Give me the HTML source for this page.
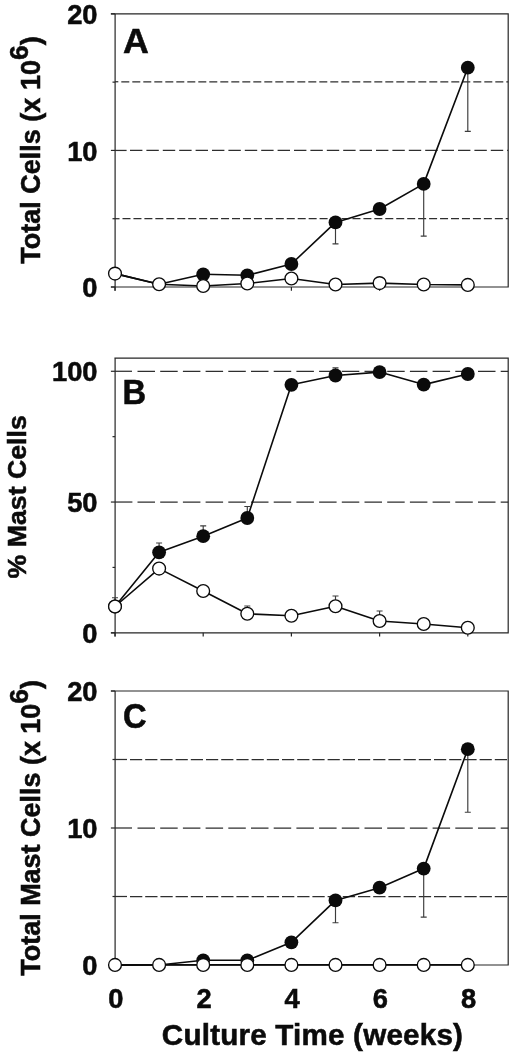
<!DOCTYPE html>
<html lang="en">
<head>
<meta charset="utf-8">
<title>Figure</title>
<style>
html,body{margin:0;padding:0;background:#fff;}
body{width:520px;height:1058px;overflow:hidden;}
svg{display:block;}
text{font-family:"Liberation Sans", Arial, Helvetica, sans-serif;font-weight:bold;fill:#0b0b0b;stroke:#0b0b0b;stroke-width:0.55px;}
.tk{font-size:27.3px;}
.tt{font-size:27px;}
.xt{font-size:29.6px;letter-spacing:0.21px;}
.sp{font-size:26.5px;}
.lt{font-size:34.4px;}
</style>
</head>
<body>
<svg width="520" height="1058" viewBox="0 0 520 1058">
<rect width="520" height="1058" fill="#fff"/>
<path d="M115.1 81.75H118.3" fill="none" stroke="#2e2e2e" stroke-width="1.25"/>
<line x1="121.3" y1="81.75" x2="508.2" y2="81.75" stroke="#2e2e2e" stroke-width="1.25" stroke-dasharray="8 3"/>
<path d="M115.1 150.43H126.6" fill="none" stroke="#2e2e2e" stroke-width="1.25"/>
<line x1="130.0" y1="150.43" x2="508.2" y2="150.43" stroke="#2e2e2e" stroke-width="1.25" stroke-dasharray="12.4 4"/>
<path d="M115.1 218.71H119.5" fill="none" stroke="#2e2e2e" stroke-width="1.25"/>
<line x1="122.5" y1="218.71" x2="508.2" y2="218.71" stroke="#2e2e2e" stroke-width="1.25" stroke-dasharray="8 2.95"/>
<path d="M115.1 290.8V13.85M110.90 13.85H508.2V287.0H110.90" fill="none" stroke="#262626" stroke-width="1.2"/>
<line x1="110.90" y1="13.85" x2="115.1" y2="13.85" stroke="#262626" stroke-width="1.2"/>
<line x1="110.90" y1="150.43" x2="115.1" y2="150.43" stroke="#262626" stroke-width="1.2"/>
<line x1="110.90" y1="287.00" x2="115.1" y2="287.00" stroke="#262626" stroke-width="1.2"/>
<line x1="112.5" y1="82.14" x2="115.1" y2="82.14" stroke="#262626" stroke-width="1.2"/>
<line x1="112.5" y1="218.71" x2="115.1" y2="218.71" stroke="#262626" stroke-width="1.2"/>
<line x1="115.00" y1="287.0" x2="115.00" y2="290.8" stroke="#262626" stroke-width="1.2"/>
<line x1="203.20" y1="287.0" x2="203.20" y2="290.8" stroke="#262626" stroke-width="1.2"/>
<line x1="291.40" y1="287.0" x2="291.40" y2="290.8" stroke="#262626" stroke-width="1.2"/>
<line x1="379.60" y1="287.0" x2="379.60" y2="290.8" stroke="#262626" stroke-width="1.2"/>
<line x1="467.80" y1="287.0" x2="467.80" y2="290.8" stroke="#262626" stroke-width="1.2"/>
<text x="97.5" y="23.95" text-anchor="end" class="tk">20</text>
<text x="97.5" y="160.53" text-anchor="end" class="tk">10</text>
<text x="97.5" y="297.10" text-anchor="end" class="tk">0</text>
<text transform="translate(122.9 53) scale(1.04 1)" class="lt">A</text>
<text transform="translate(40.4 150) rotate(-90)" text-anchor="middle" class="tt" style="font-size:27px">Total Cells (x 10<tspan dy="-12.3" class="sp">6</tspan><tspan dy="12.3">)</tspan></text>
<path d="M335.50 222.40V243.90M332.50 243.90H338.50" fill="none" stroke="#3c3c3c" stroke-width="1.15"/>
<path d="M423.70 183.90V236.10M420.70 236.10H426.70" fill="none" stroke="#3c3c3c" stroke-width="1.15"/>
<path d="M467.80 67.70V131.40M464.80 131.40H470.80" fill="none" stroke="#3c3c3c" stroke-width="1.15"/>
<path d="M115.00 273.60L159.10 284.20L203.20 274.30" fill="none" stroke="#0b0b0b" stroke-width="1.6" stroke-linejoin="round"/>
<path d="M203.20 274.30L247.30 275.30L291.40 264.00L335.50 222.40L379.60 209.00L423.70 183.90L467.80 67.70" fill="none" stroke="#0b0b0b" stroke-width="1.6" stroke-linejoin="round"/>
<circle cx="203.20" cy="274.30" r="6.9" fill="#0b0b0b"/>
<circle cx="247.30" cy="275.30" r="6.9" fill="#0b0b0b"/>
<circle cx="291.40" cy="264.00" r="6.9" fill="#0b0b0b"/>
<circle cx="335.50" cy="222.40" r="6.9" fill="#0b0b0b"/>
<circle cx="379.60" cy="209.00" r="6.9" fill="#0b0b0b"/>
<circle cx="423.70" cy="183.90" r="6.9" fill="#0b0b0b"/>
<circle cx="467.80" cy="67.70" r="6.9" fill="#0b0b0b"/>
<path d="M115.00 273.60L159.10 284.20L203.20 286.00L247.30 283.50L291.40 278.50L335.50 284.50L379.60 283.10L423.70 284.50L467.80 284.90" fill="none" stroke="#0b0b0b" stroke-width="1.6" stroke-linejoin="round"/>
<circle cx="115.00" cy="273.60" r="6.4" fill="#fff" stroke="#0b0b0b" stroke-width="1.35"/>
<circle cx="159.10" cy="284.20" r="6.4" fill="#fff" stroke="#0b0b0b" stroke-width="1.35"/>
<circle cx="203.20" cy="286.00" r="6.4" fill="#fff" stroke="#0b0b0b" stroke-width="1.35"/>
<circle cx="247.30" cy="283.50" r="6.4" fill="#fff" stroke="#0b0b0b" stroke-width="1.35"/>
<circle cx="291.40" cy="278.50" r="6.4" fill="#fff" stroke="#0b0b0b" stroke-width="1.35"/>
<circle cx="335.50" cy="284.50" r="6.4" fill="#fff" stroke="#0b0b0b" stroke-width="1.35"/>
<circle cx="379.60" cy="283.10" r="6.4" fill="#fff" stroke="#0b0b0b" stroke-width="1.35"/>
<circle cx="423.70" cy="284.50" r="6.4" fill="#fff" stroke="#0b0b0b" stroke-width="1.35"/>
<circle cx="467.80" cy="284.90" r="6.4" fill="#fff" stroke="#0b0b0b" stroke-width="1.35"/>
<path d="M115.1 371.28H132.0" fill="none" stroke="#2e2e2e" stroke-width="1.25"/>
<line x1="137.5" y1="371.28" x2="508.2" y2="371.28" stroke="#2e2e2e" stroke-width="1.25" stroke-dasharray="17.5 5.2"/>
<path d="M115.1 502.04H132.4" fill="none" stroke="#2e2e2e" stroke-width="1.25"/>
<line x1="137.5" y1="502.04" x2="508.2" y2="502.04" stroke="#2e2e2e" stroke-width="1.25" stroke-dasharray="17.5 5.2"/>
<path d="M115.1 636.60V358.2M114.40 358.2H508.2V632.8H110.90" fill="none" stroke="#262626" stroke-width="1.2"/>
<line x1="110.90" y1="371.28" x2="115.1" y2="371.28" stroke="#262626" stroke-width="1.2"/>
<line x1="110.90" y1="502.04" x2="115.1" y2="502.04" stroke="#262626" stroke-width="1.2"/>
<line x1="110.90" y1="632.80" x2="115.1" y2="632.80" stroke="#262626" stroke-width="1.2"/>
<line x1="112.5" y1="436.66" x2="115.1" y2="436.66" stroke="#262626" stroke-width="1.2"/>
<line x1="112.5" y1="567.42" x2="115.1" y2="567.42" stroke="#262626" stroke-width="1.2"/>
<line x1="115.00" y1="632.8" x2="115.00" y2="636.60" stroke="#262626" stroke-width="1.2"/>
<line x1="203.20" y1="632.8" x2="203.20" y2="636.60" stroke="#262626" stroke-width="1.2"/>
<line x1="291.40" y1="632.8" x2="291.40" y2="636.60" stroke="#262626" stroke-width="1.2"/>
<line x1="379.60" y1="632.8" x2="379.60" y2="636.60" stroke="#262626" stroke-width="1.2"/>
<line x1="467.80" y1="632.8" x2="467.80" y2="636.60" stroke="#262626" stroke-width="1.2"/>
<text x="97.5" y="381.38" text-anchor="end" class="tk">100</text>
<text x="97.5" y="512.14" text-anchor="end" class="tk">50</text>
<text x="97.5" y="642.90" text-anchor="end" class="tk">0</text>
<text transform="translate(122.5 404.4) scale(0.95 1)" class="lt">B</text>
<text transform="translate(26.4 496.8) rotate(-90)" text-anchor="middle" class="tt" style="font-size:26.7px">% Mast Cells</text>
<path d="M115.00 606.50V597.70M112.00 597.70H118.00" fill="none" stroke="#3c3c3c" stroke-width="1.15"/>
<path d="M159.10 552.30V543.00M156.10 543.00H162.10" fill="none" stroke="#3c3c3c" stroke-width="1.15"/>
<path d="M203.20 536.20V525.80M200.20 525.80H206.20" fill="none" stroke="#3c3c3c" stroke-width="1.15"/>
<path d="M247.30 518.00V506.50M244.30 506.50H250.30" fill="none" stroke="#3c3c3c" stroke-width="1.15"/>
<path d="M247.30 613.80V606.00M244.30 606.00H250.30" fill="none" stroke="#3c3c3c" stroke-width="1.15"/>
<path d="M335.50 606.20V596.00M332.50 596.00H338.50" fill="none" stroke="#3c3c3c" stroke-width="1.15"/>
<path d="M379.60 621.00V611.00M376.60 611.00H382.60" fill="none" stroke="#3c3c3c" stroke-width="1.15"/>
<path d="M335.50 375.50V367.90M332.50 367.90H338.50" fill="none" stroke="#3c3c3c" stroke-width="1.15"/>
<path d="M115.00 606.50L159.10 552.30L203.20 536.20L247.30 518.00L291.40 384.80L335.50 375.50L379.60 372.10L423.70 384.60L467.80 374.00" fill="none" stroke="#0b0b0b" stroke-width="1.6" stroke-linejoin="round"/>
<circle cx="115.00" cy="606.50" r="6.9" fill="#0b0b0b"/>
<circle cx="159.10" cy="552.30" r="6.9" fill="#0b0b0b"/>
<circle cx="203.20" cy="536.20" r="6.9" fill="#0b0b0b"/>
<circle cx="247.30" cy="518.00" r="6.9" fill="#0b0b0b"/>
<circle cx="291.40" cy="384.80" r="6.9" fill="#0b0b0b"/>
<circle cx="335.50" cy="375.50" r="6.9" fill="#0b0b0b"/>
<circle cx="379.60" cy="372.10" r="6.9" fill="#0b0b0b"/>
<circle cx="423.70" cy="384.60" r="6.9" fill="#0b0b0b"/>
<circle cx="467.80" cy="374.00" r="6.9" fill="#0b0b0b"/>
<path d="M115.00 606.50L159.10 568.60L203.20 591.00L247.30 613.80L291.40 615.80L335.50 606.20L379.60 621.00L423.70 624.00L467.80 627.80" fill="none" stroke="#0b0b0b" stroke-width="1.6" stroke-linejoin="round"/>
<circle cx="115.00" cy="606.50" r="6.4" fill="#fff" stroke="#0b0b0b" stroke-width="1.35"/>
<circle cx="159.10" cy="568.60" r="6.4" fill="#fff" stroke="#0b0b0b" stroke-width="1.35"/>
<circle cx="203.20" cy="591.00" r="6.4" fill="#fff" stroke="#0b0b0b" stroke-width="1.35"/>
<circle cx="247.30" cy="613.80" r="6.4" fill="#fff" stroke="#0b0b0b" stroke-width="1.35"/>
<circle cx="291.40" cy="615.80" r="6.4" fill="#fff" stroke="#0b0b0b" stroke-width="1.35"/>
<circle cx="335.50" cy="606.20" r="6.4" fill="#fff" stroke="#0b0b0b" stroke-width="1.35"/>
<circle cx="379.60" cy="621.00" r="6.4" fill="#fff" stroke="#0b0b0b" stroke-width="1.35"/>
<circle cx="423.70" cy="624.00" r="6.4" fill="#fff" stroke="#0b0b0b" stroke-width="1.35"/>
<circle cx="467.80" cy="627.80" r="6.4" fill="#fff" stroke="#0b0b0b" stroke-width="1.35"/>
<path d="M115.1 759.50H127.0" fill="none" stroke="#2e2e2e" stroke-width="1.25"/>
<line x1="130.0" y1="759.50" x2="508.2" y2="759.50" stroke="#2e2e2e" stroke-width="1.25" stroke-dasharray="12.2 3"/>
<path d="M115.1 828.00H132.0" fill="none" stroke="#2e2e2e" stroke-width="1.25"/>
<line x1="137.5" y1="828.00" x2="508.2" y2="828.00" stroke="#2e2e2e" stroke-width="1.25" stroke-dasharray="17.5 5.2"/>
<path d="M115.1 896.50H127.0" fill="none" stroke="#2e2e2e" stroke-width="1.25"/>
<line x1="130.0" y1="896.50" x2="508.2" y2="896.50" stroke="#2e2e2e" stroke-width="1.25" stroke-dasharray="12.3 2.9"/>
<path d="M115.1 968.8V691.0M110.90 691.0H508.2V965.0H110.90" fill="none" stroke="#262626" stroke-width="1.2"/>
<line x1="110.90" y1="691.00" x2="115.1" y2="691.00" stroke="#262626" stroke-width="1.2"/>
<line x1="110.90" y1="828.00" x2="115.1" y2="828.00" stroke="#262626" stroke-width="1.2"/>
<line x1="110.90" y1="965.00" x2="115.1" y2="965.00" stroke="#262626" stroke-width="1.2"/>
<line x1="112.5" y1="759.50" x2="115.1" y2="759.50" stroke="#262626" stroke-width="1.2"/>
<line x1="112.5" y1="896.50" x2="115.1" y2="896.50" stroke="#262626" stroke-width="1.2"/>
<text x="97.5" y="701.10" text-anchor="end" class="tk">20</text>
<text x="97.5" y="838.10" text-anchor="end" class="tk">10</text>
<text x="97.5" y="975.10" text-anchor="end" class="tk">0</text>
<text transform="translate(123.0 727.8) scale(0.95 1)" class="lt">C</text>
<text transform="translate(40.4 827.8) rotate(-90)" text-anchor="middle" class="tt" style="font-size:26.95px">Total Mast Cells (x 10<tspan dy="-12.3" class="sp">6</tspan><tspan dy="12.3">)</tspan></text>
<path d="M335.50 900.40V922.70M332.50 922.70H338.50" fill="none" stroke="#3c3c3c" stroke-width="1.15"/>
<path d="M423.70 868.60V917.10M420.70 917.10H426.70" fill="none" stroke="#3c3c3c" stroke-width="1.15"/>
<path d="M467.80 749.20V812.20M464.80 812.20H470.80" fill="none" stroke="#3c3c3c" stroke-width="1.15"/>
<path d="M115.00 965.20L159.10 965.00L203.20 960.30L247.30 960.30L291.40 942.30L335.50 900.40L379.60 887.70L423.70 868.60L467.80 749.20" fill="none" stroke="#0b0b0b" stroke-width="1.6" stroke-linejoin="round"/>
<circle cx="203.20" cy="960.30" r="6.9" fill="#0b0b0b"/>
<circle cx="247.30" cy="960.30" r="6.9" fill="#0b0b0b"/>
<circle cx="291.40" cy="942.30" r="6.9" fill="#0b0b0b"/>
<circle cx="335.50" cy="900.40" r="6.9" fill="#0b0b0b"/>
<circle cx="379.60" cy="887.70" r="6.9" fill="#0b0b0b"/>
<circle cx="423.70" cy="868.60" r="6.9" fill="#0b0b0b"/>
<circle cx="467.80" cy="749.20" r="6.9" fill="#0b0b0b"/>
<path d="M115.00 964.90L159.10 964.90L203.20 964.90L247.30 964.90L291.40 964.90L335.50 964.90L379.60 964.90L423.70 964.90L467.80 964.90" fill="none" stroke="#0b0b0b" stroke-width="1.6" stroke-linejoin="round"/>
<circle cx="115.00" cy="964.90" r="6.4" fill="#fff" stroke="#0b0b0b" stroke-width="1.35"/>
<circle cx="159.10" cy="964.90" r="6.4" fill="#fff" stroke="#0b0b0b" stroke-width="1.35"/>
<circle cx="203.20" cy="964.90" r="6.4" fill="#fff" stroke="#0b0b0b" stroke-width="1.35"/>
<circle cx="247.30" cy="964.90" r="6.4" fill="#fff" stroke="#0b0b0b" stroke-width="1.35"/>
<circle cx="291.40" cy="964.90" r="6.4" fill="#fff" stroke="#0b0b0b" stroke-width="1.35"/>
<circle cx="335.50" cy="964.90" r="6.4" fill="#fff" stroke="#0b0b0b" stroke-width="1.35"/>
<circle cx="379.60" cy="964.90" r="6.4" fill="#fff" stroke="#0b0b0b" stroke-width="1.35"/>
<circle cx="423.70" cy="964.90" r="6.4" fill="#fff" stroke="#0b0b0b" stroke-width="1.35"/>
<circle cx="467.80" cy="964.90" r="6.4" fill="#fff" stroke="#0b0b0b" stroke-width="1.35"/>
<text x="115.80" y="1007.8" text-anchor="middle" class="tk">0</text>
<text x="204.00" y="1007.8" text-anchor="middle" class="tk">2</text>
<text x="292.20" y="1007.8" text-anchor="middle" class="tk">4</text>
<text x="380.40" y="1007.8" text-anchor="middle" class="tk">6</text>
<text x="468.60" y="1007.8" text-anchor="middle" class="tk">8</text>
<text x="312.5" y="1044.6" text-anchor="middle" class="xt">Culture Time (weeks)</text>
</svg>
</body>
</html>
